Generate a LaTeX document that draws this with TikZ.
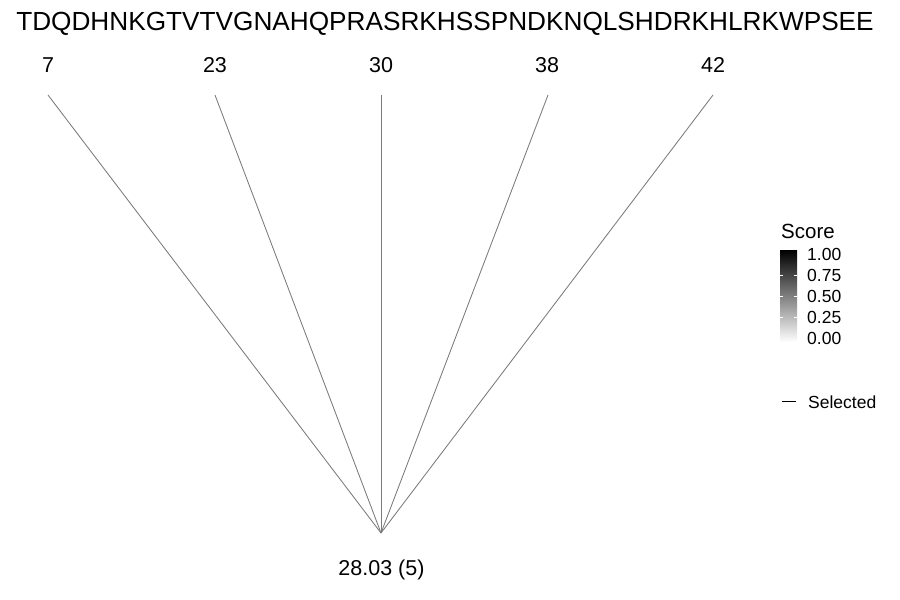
\documentclass[tikz,border=0pt]{standalone}
\usepackage{fontspec}
\setmainfont{Liberation Sans}
\begin{document}
\begin{tikzpicture}[x=1pt,y=-1pt,
  conn/.style={draw=black!52, line width=0.85pt},
  lbl/.style={anchor=base, inner sep=0pt, font=\fontsize{21.5}{21.5}\selectfont},
  tick/.style={anchor=base west, inner sep=0pt, font=\fontsize{17.5}{17.5}\selectfont}]
\useasboundingbox (0,0) rectangle (900,600);
\node[anchor=base, inner sep=0pt, font=\fontsize{26.2}{26}\selectfont] (seq) at (445,30) {TDQDHNKGTVTVGNAHQPRASRKHSSPNDKNQLSHDRKHLRKWPSEE};
\node[lbl] (n7) at (48,72) {7};
\node[lbl] (n23) at (215,72) {23};
\node[lbl] (n30) at (381,72) {30};
\node[lbl] (n38) at (547,72) {38};
\node[lbl] (n42) at (713,72) {42};
\coordinate (t7) at (48,95);
\coordinate (t23) at (215,95);
\coordinate (t30) at (381,95);
\coordinate (t38) at (548,95);
\coordinate (t42) at (713,95);
\coordinate (hub) at (381,533);
\foreach \t in {t7,t23,t30,t38,t42} \draw[conn] (\t) -- (hub);
\node[lbl] (res) at (381.5,575) {28.03 (5)};
% legend
\node[anchor=base west, inner sep=0pt, font=\fontsize{20.5}{20.5}\selectfont] (score) at (781,238) {Score};
\shade[top color=black, bottom color=white, middle color=black!50] (780,250) rectangle (797,342);
\foreach \y in {275.5,296.5,317.5} {
  \draw[white, line width=0.4pt] (780,\y) -- (783,\y);
  \draw[white, line width=0.4pt] (794,\y) -- (797,\y);
}
\node[tick] (v100) at (807,260) {1.00};
\node[tick] (v075) at (807,281) {0.75};
\node[tick] (v050) at (807,302) {0.50};
\node[tick] (v025) at (807,323) {0.25};
\node[tick] (v000) at (807,344) {0.00};
\coordinate (sa) at (782,401.5);
\coordinate (sb) at (796,401.5);
\draw[black, line width=0.7pt] (sa) -- (sb);
\node[tick] (sel) at (808,408) {Selected};
\end{tikzpicture}
\end{document}
